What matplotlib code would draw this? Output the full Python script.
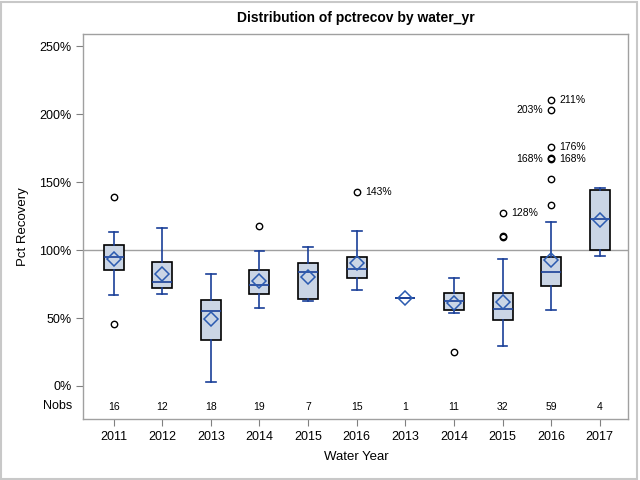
import matplotlib
matplotlib.use("Agg")
import matplotlib.pyplot as plt
from matplotlib.patches import Rectangle

plt.rcParams['font.family'] = ['Liberation Sans', 'DejaVu Sans']

# values (percent)
years = ["2011", "2012", "2013", "2014", "2015", "2016",
         "2013", "2014", "2015", "2016", "2017"]
nobs = [16, 12, 18, 19, 7, 15, 1, 11, 32, 59, 4]
q1 = [85.0, 71.8, 33.6, 67.4, 63.7, 79.2, 64.5, 55.9, 48.5, 73.3, 99.8]
med = [94.6, 76.2, 55.1, 74.0, 83.6, 85.8, 64.5, 62.5, 56.4, 83.6, 122.5]
q3 = [103.4, 90.9, 63.0, 85.0, 90.2, 94.6, 64.5, 68.1, 68.1, 94.6, 143.9]
whislo = [66.7, 67.6, 2.7, 57.1, 62.5, 70.3, 64.5, 53.7, 29.2, 55.9, 95.6]
whishi = [113.5, 115.9, 82.1, 99.5, 102.0, 114.2, 64.5, 79.7, 93.1, 120.3, 145.8]
means = [93.1, 82.1, 49.0, 76.9, 79.9, 90.4, 64.5, 60.8, 62.0, 92.6, 121.8]
fliers = [[138.7, 45.3], [], [], [117.4], [], [142.4], [], [24.8],
          [127.0, 109.8, 110.3],
          [210.0, 202.7, 175.5, 167.2, 167.5, 151.9, 132.8], []]

# labelled outliers: (group, value, text, side)
flier_labels = [(5, 142.4, "143%", "r"), (8, 127.0, "128%", "r"),
                (9, 210.0, "211%", "r"), (9, 202.7, "203%", "l"),
                (9, 175.5, "176%", "r"), (9, 167.2, "168%", "l"),
                (9, 167.2, "168%", "r")]

blue = '#1a3f98'
mblue = '#2b5bb0'

fig = plt.figure(figsize=(6.4, 4.8), dpi=100)
ax = fig.add_axes([0.130, 0.127, 0.852, 0.802])

stats = []
for i in range(len(years)):
    stats.append(dict(q1=q1[i], med=med[i], q3=q3[i], whislo=whislo[i],
                      whishi=whishi[i], mean=means[i], fliers=fliers[i]))

pos = list(range(len(years)))
bp = ax.bxp(stats, positions=pos, widths=0.41, capwidths=0.2,
            showmeans=True, patch_artist=True, zorder=3,
            boxprops=dict(facecolor='#cad5e5', edgecolor='black', linewidth=1.2),
            medianprops=dict(color=blue, linewidth=1.2),
            whiskerprops=dict(color=blue, linewidth=1.2),
            capprops=dict(color=blue, linewidth=1.2),
            meanprops=dict(marker='D', markersize=7.5, markerfacecolor='none',
                           markeredgecolor=mblue, markeredgewidth=1.1),
            flierprops=dict(marker='o', markersize=4.6, markerfacecolor='none',
                            markeredgecolor='black', markeredgewidth=1.0))

# single observation group: drawn as a plain blue line
for i, n in enumerate(nobs):
    if n == 1:
        bp['boxes'][i].set_edgecolor(blue)
        bp['caps'][2 * i].set_visible(False)
        bp['caps'][2 * i + 1].set_visible(False)

ax.axhline(100, color='#a0a0a0', linewidth=1, zorder=1)

for g, v, txt, side in flier_labels:
    if side == "r":
        ax.annotate(txt, (g, v), xytext=(6, 0), textcoords='offset points',
                    ha='left', va='center', fontsize=7.5)
    else:
        ax.annotate(txt, (g, v), xytext=(-6, 0), textcoords='offset points',
                    ha='right', va='center', fontsize=7.5)

# Nobs row inside the frame
for i, n in enumerate(nobs):
    ax.text(i, 0.018, str(n), transform=ax.get_xaxis_transform(),
            ha='center', va='bottom', fontsize=7.5)
ax.text(-0.02, 0.018, "Nobs", transform=ax.transAxes, ha='right',
        va='bottom', fontsize=9)

ax.set_xlim(-0.625, 10.59)
ax.set_ylim(-24.3, 258.8)
ax.set_yticks([0, 50, 100, 150, 200, 250])
ax.set_yticklabels(["0%", "50%", "100%", "150%", "200%", "250%"])
ax.set_xticks(pos)
ax.set_xticklabels(years)
ax.tick_params(axis='both', labelsize=9, color='#808080', length=5, width=0.8)
for s in ax.spines.values():
    s.set_color('#a0a0a0')
    s.set_linewidth(1)

ax.set_xlabel("Water Year", fontsize=9.5, labelpad=6)
ax.set_ylabel("Pct Recovery", fontsize=9.5, labelpad=7)
ax.set_title("Distribution of pctrecov by water_yr", fontsize=10,
             fontweight='bold', pad=9)

fig.patches.append(Rectangle((0.002, 0.002), 0.994, 0.994, transform=fig.transFigure,
                             fill=False, edgecolor='#c8c8c8', linewidth=1.5))

fig.savefig("out.png", dpi=100)
